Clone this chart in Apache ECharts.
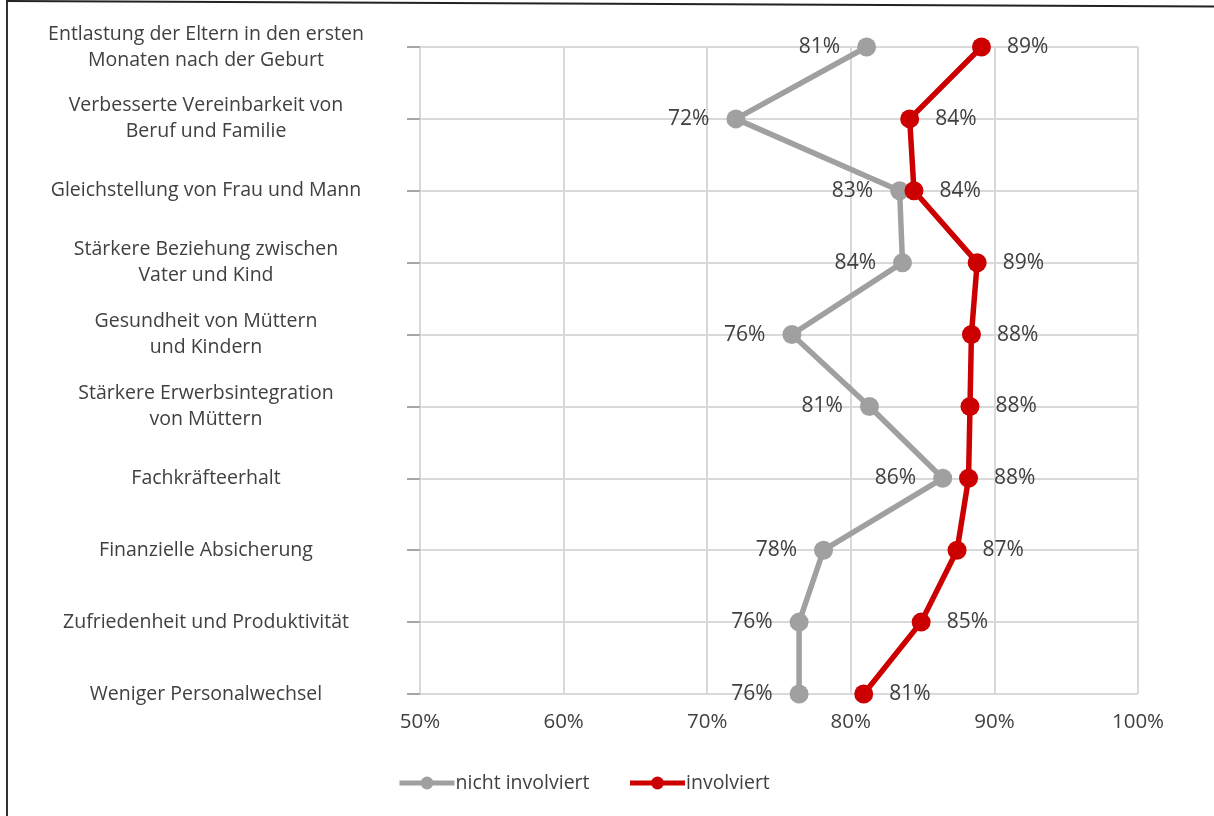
<!DOCTYPE html>
<html>
<head>
<meta charset="utf-8">
<script src="https://cdn.jsdelivr.net/npm/echarts@6/dist/echarts.min.js"></script>
<style>
html,body{margin:0;padding:0;background:#fff;}
#chart{width:1214px;height:816px;}
</style>
</head>
<body>
<div id="chart"></div>
<script>
const categories = [
  'Entlastung der Eltern in den ersten\nMonaten nach der Geburt',
  'Verbesserte Vereinbarkeit von\nBeruf und Familie',
  'Gleichstellung von Frau und Mann',
  'Stärkere Beziehung zwischen\nVater und Kind',
  'Gesundheit von Müttern\nund Kindern',
  'Stärkere Erwerbsintegration\nvon Müttern',
  'Fachkräfteerhalt',
  'Finanzielle Absicherung',
  'Zufriedenheit und Produktivität',
  'Weniger Personalwechsel'
];
const nichtInvolviert = [81.1, 72.0, 83.4, 83.6, 75.9, 81.3, 86.4, 78.1, 76.4, 76.4];
const involviert = [89.1, 84.1, 84.4, 88.8, 88.4, 88.3, 88.2, 87.4, 84.9, 80.9];
const seriesNames = ['nicht involviert', 'involviert'];
const xTicks = {min: 50, max: 100, interval: 10};

const chart = echarts.init(document.getElementById('chart'));
const FONT = 'Open Sans';
const TXT = '#404040';
const GRID = '#d9d9d9';

chart.setOption({
  animation: false,
  backgroundColor: '#fff',
  textStyle: {fontFamily: FONT},
  graphic: [
    {type: 'line', shape: {x1: 7, y1: 0, x2: 7, y2: 816}, style: {stroke: '#333', lineWidth: 2}, silent: true},
    {type: 'line', shape: {x1: 7, y1: 1, x2: 1214, y2: 6.5}, style: {stroke: '#222', lineWidth: 2}, silent: true}
  ],
  grid: {left: 420, right: 76, top: 47, bottom: 122, containLabel: false},
  legend: {
    left: 392, top: 768,
    itemWidth: 55, itemHeight: 16, itemGap: 38,
    lineStyle: {width: 5},
    textStyle: {fontFamily: FONT, fontSize: 19.5, color: TXT, padding: [0, 0, 0, -4]},
    data: seriesNames
  },
  xAxis: {
    type: 'value', min: xTicks.min, max: xTicks.max, interval: xTicks.interval,
    axisLine: {show: false},
    axisTick: {show: false},
    axisLabel: {formatter: '{value}%', fontFamily: FONT, fontSize: 20.5, color: TXT, margin: 18},
    splitLine: {show: true, lineStyle: {color: GRID, width: 2}}
  },
  yAxis: {
    type: 'category', data: categories, inverse: true, boundaryGap: false,
    axisLine: {show: true, lineStyle: {color: GRID, width: 2}},
    axisTick: {show: true, length: 13, lineStyle: {color: '#a6a6a6', width: 2}},
    axisLabel: {fontFamily: FONT, fontSize: 19.5, color: TXT, align: 'center', margin: 214, lineHeight: 26},
    splitLine: {show: true, lineStyle: {color: GRID, width: 2}}
  },
  series: [
    {
      name: seriesNames[0], type: 'line', data: nichtInvolviert,
      color: '#a0a0a0',
      symbol: 'circle', symbolSize: 19,
      lineStyle: {width: 5.5, color: '#a0a0a0'},
      itemStyle: {color: '#a0a0a0'},
      label: {show: true, position: 'left', distance: 17, fontFamily: FONT, fontSize: 21, color: TXT,
        formatter: p => Math.round(p.value) + '%'}
    },
    {
      name: seriesNames[1], type: 'line', data: involviert,
      color: '#cc0000',
      symbol: 'circle', symbolSize: 19,
      lineStyle: {width: 5.5, color: '#cc0000'},
      itemStyle: {color: '#cc0000'},
      label: {show: true, position: 'right', distance: 16, fontFamily: FONT, fontSize: 21, color: TXT,
        formatter: p => Math.round(p.value) + '%'}
    }
  ]
});
</script>
</body>
</html>
